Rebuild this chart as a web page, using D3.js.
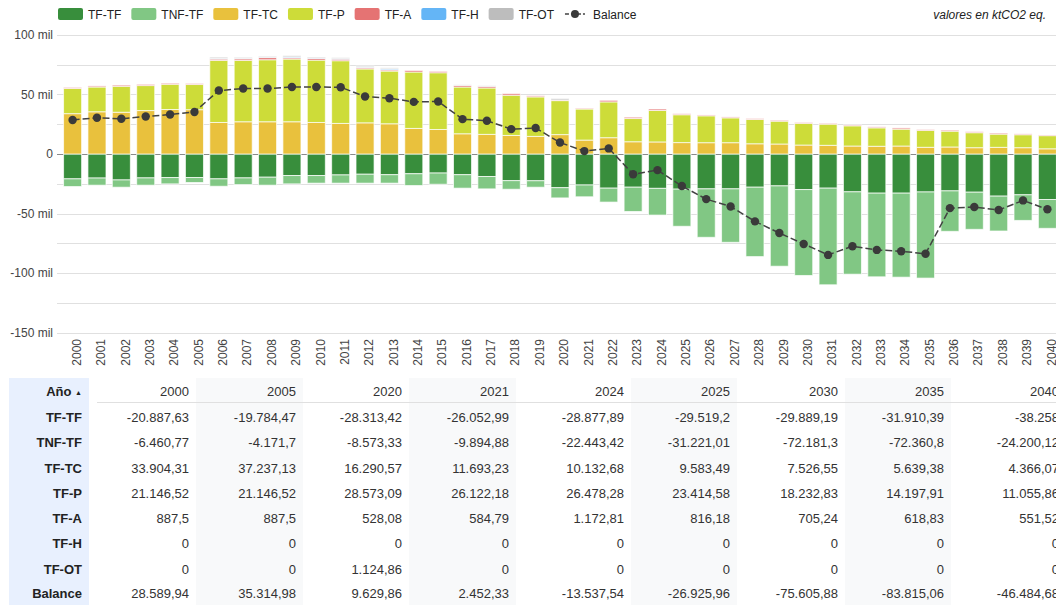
<html>
<head>
<script src="https://d3js.org/d3.v7.min.js"></script>
<style>
body { margin: 0; font-family: Arial, "Liberation Sans", sans-serif; background: #fff; }
svg { display: block; }
.tick-label { font-size: 12px; fill: #444; }
.legend-text { font-size: 12px; fill: #222; }
.cell { font-size: 13px; fill: #333; }
.head { font-size: 13px; fill: #222; font-weight: bold; }
</style>
</head>
<body>
<div id="chart"></div>
<script>
// years on the x axis
var years = d3.range(2000, 2041);

// series values, ktCO2 eq. (exact where the table gives them)
var tfTF = [-20887.63, -20200, -21800, -20100, -19800, -19784.47, -20900, -20100, -19500, -18100,
  -18100, -17600, -17000, -17400, -16600, -16000, -17400, -18900, -22400, -22500,
  -28313.42, -26052.99, -28700, -27900, -28877.89, -29519.2, -29300, -29300, -27900, -26800,
  -29889.19, -28700, -31800, -32900, -32900, -31910.39, -31000, -32100, -35400, -34300, -38258];
var tnfTF = [-6460.77, -6000, -6100, -6100, -5300, -4171.7, -6200, -5600, -6700, -7000,
  -6400, -6900, -7500, -7100, -9900, -9400, -11300, -10400, -7200, -5400,
  -8573.33, -9894.88, -11700, -20400, -22443.42, -31221.01, -40700, -44900, -58300, -67500,
  -72181.3, -81200, -69200, -70300, -70600, -72360.8, -34000, -31200, -29300, -21500, -24200.12];
var tfTC = [33904.31, 35500, 35100, 36500, 37400, 37237.13, 26500, 27100, 27100, 27100,
  26500, 25700, 26200, 25400, 21500, 20600, 17000, 16500, 15600, 14800,
  16290.57, 11693.23, 13700, 10300, 10132.68, 9583.49, 9500, 9500, 8600, 8400,
  7526.55, 7300, 6700, 6500, 6700, 5639.38, 5900, 5300, 5600, 5300, 4366.07];
var tfP = [21146.52, 20800, 21800, 21000, 21200, 21146.52, 52200, 51600, 52100, 52700,
  52400, 52700, 45300, 44300, 47400, 47700, 39300, 39000, 33800, 33200,
  28573.09, 26122.18, 30100, 19500, 26478.28, 23414.58, 22600, 20900, 20400, 19200,
  18232.83, 17800, 17000, 15500, 14200, 14197.91, 13300, 12600, 11100, 10900, 11055.86];
var tfA = [887.5, 900, 1000, 1000, 900, 887.5, 1100, 1300, 1800, 1100,
  1500, 1300, 1000, 1000, 1300, 1100, 1300, 1300, 1300, 900,
  528.08, 584.79, 1300, 1100, 1172.81, 816.18, 700, 750, 750, 800,
  705.24, 650, 700, 800, 1000, 618.83, 900, 800, 900, 700, 551.52];
var tfH = [0, 0, 0, 0, 0, 0, 500, 300, 300, 700,
  300, 400, 400, 900, 0, 0, 0, 0, 0, 0,
  0, 0, 0, 0, 0, 0, 0, 0, 0, 0,
  0, 0, 0, 0, 0, 0, 0, 0, 0, 0, 0];
var tfOT = [0, 0, 0, 0, 0, 0, 1000, 900, 800, 1000,
  800, 800, 900, 800, 0, 0, 500, 500, 0, 0,
  1124.86, 0, 0, 0, 0, 0, 0, 0, 0, 0,
  0, 0, 0, 0, 0, 0, 0, 0, 0, 0, 0];
var balance = [28589.94, 30400, 29600, 31500, 33200, 35314.98, 53300, 55000, 55000, 56300,
  56300, 56100, 48300, 46900, 43800, 44100, 29300, 27900, 20900, 21800,
  9629.86, 2452.33, 4700, -17000, -13537.54, -26925.96, -37900, -44100, -56600, -66400,
  -75605.88, -84800, -77500, -80600, -81700, -83815.06, -45500, -44600, -47100, -39000, -46484.68];

var seriesNames = ["TF-TF", "TNF-TF", "TF-TC", "TF-P", "TF-A", "TF-H", "TF-OT"];
var seriesColors = ["#388e3c", "#81c784", "#e9c13d", "#cddc39", "#e57373", "#64b5f6", "#bdbdbd"];
var yTicks = [100000, 75000, 50000, 25000, 0, -25000, -50000, -75000, -100000, -125000, -150000];
var yLabelTicks = [100000, 50000, 0, -50000, -100000, -150000];
var tableYears = [2000, 2005, 2020, 2021, 2024, 2025, 2030, 2035, 2040];

var W = 1056, H = 605;
var allSeries = [tfTF, tnfTF, tfTC, tfP, tfA, tfH, tfOT];

var rows = years.map(function(y, i) {
  var r = {year: y};
  seriesNames.forEach(function(k, j) { r[k] = allSeries[j][i]; });
  return r;
});

var x = d3.scaleBand().domain(years).range([57, 1063]).paddingInner(0.26).paddingOuter(0.27);
var y = d3.scaleLinear().domain([-150000, 100000]).range([332.5, 35]);
var color = d3.scaleOrdinal().domain(seriesNames).range(seriesColors);

var svg = d3.select("#chart").append("svg").attr("width", W).attr("height", H);

/* grid */
svg.append("g").selectAll("line").data(yTicks).enter().append("line")
  .attr("x1", 57).attr("x2", W)
  .attr("y1", function(d) { return Math.round(y(d)) + 0.5; })
  .attr("y2", function(d) { return Math.round(y(d)) + 0.5; })
  .attr("stroke", function(d) { return d === 0 ? "#8a8a8a" : "#e0e0e0"; })
  .attr("stroke-width", 1);

svg.append("g").selectAll("text").data(yLabelTicks).enter().append("text")
  .attr("class", "tick-label")
  .attr("x", 53).attr("y", function(d) { return y(d); })
  .attr("dy", "0.35em").attr("text-anchor", "end")
  .text(function(d) { return d === 0 ? "0" : (d / 1000) + " mil"; });

/* stacked bars */
var stack = d3.stack().keys(seriesNames).offset(d3.stackOffsetDiverging);
var layers = stack(rows);

svg.append("g").selectAll("g").data(layers).enter().append("g")
  .attr("fill", function(d) { return color(d.key); })
  .selectAll("rect").data(function(d) { return d; }).enter().append("rect")
  .attr("x", function(d) { return x(d.data.year); })
  .attr("width", x.bandwidth())
  .attr("y", function(d) { return y(Math.max(d[0], d[1])); })
  .attr("height", function(d) { return Math.abs(y(d[0]) - y(d[1])); })
  .attr("stroke", "#fff").attr("stroke-opacity", 0.7).attr("stroke-width", 1);

/* balance line */
var line = d3.line()
  .x(function(d, i) { return x(years[i]) + x.bandwidth() / 2; })
  .y(function(d) { return y(d); });

svg.append("path").datum(balance)
  .attr("d", line).attr("fill", "none")
  .attr("stroke", "#424242").attr("stroke-width", 1.5)
  .attr("stroke-dasharray", "7,3");

svg.append("g").selectAll("circle").data(balance).enter().append("circle")
  .attr("cx", function(d, i) { return x(years[i]) + x.bandwidth() / 2; })
  .attr("cy", function(d) { return y(d); })
  .attr("r", 4.2).attr("fill", "#3a3a3a");

/* x labels */
svg.append("g").selectAll("text").data(years).enter().append("text")
  .attr("class", "tick-label")
  .attr("transform", function(d) { return "translate(" + (x(d) + x.bandwidth() / 2 + 4) + ",339) rotate(-90)"; })
  .attr("text-anchor", "end").attr("dy", "0.35em")
  .text(function(d) { return d; });

/* legend */
var legend = svg.append("g");
var lx = 58;
seriesNames.forEach(function(k) {
  legend.append("rect").attr("x", lx).attr("y", 8).attr("width", 25).attr("height", 12)
    .attr("rx", 2).attr("fill", color(k));
  var t = legend.append("text").attr("class", "legend-text")
    .attr("x", lx + 30).attr("y", 18.5).text(k);
  lx += 30 + t.node().getComputedTextLength() + 10;
});
legend.append("line").attr("x1", lx + 1).attr("x2", lx + 21).attr("y1", 14).attr("y2", 14)
  .attr("stroke", "#424242").attr("stroke-width", 1.5).attr("stroke-dasharray", "4,2");
legend.append("circle").attr("cx", lx + 11).attr("cy", 14).attr("r", 4).attr("fill", "#3a3a3a");
legend.append("text").attr("class", "legend-text").attr("x", lx + 29).attr("y", 18.5).text("Balance");

svg.append("text").attr("x", 1046).attr("y", 19)
  .attr("text-anchor", "end").attr("font-style", "italic")
  .attr("font-size", 12).attr("fill", "#222")
  .text("valores en ktCO2 eq.");

/* table */
var fmt = d3.formatLocale({decimal: ",", thousands: ".", grouping: [3], currency: ["", ""], minus: "-"}).format(",.2~f");
var colRight = [82, 189, 296, 402, 509, 624, 730, 838, 944, 1059];
var rowY = [391, 417, 442, 468, 493, 518, 543, 569, 593];
var tableTop = 378;
var rowLabels = seriesNames.concat(["Balance"]);
var rowData = allSeries.concat([balance]);

var table = svg.append("g");
table.append("rect").attr("x", 9).attr("y", tableTop).attr("width", 80).attr("height", H - tableTop)
  .attr("fill", "#e8f0fe");
tableYears.forEach(function(yr, c) {
  if (c % 2 === 1) {
    table.append("rect").attr("x", colRight[c] + 7).attr("y", tableTop)
      .attr("width", colRight[c + 1] - colRight[c]).attr("height", H - tableTop)
      .attr("fill", "#f8f9fa");
  }
});
table.append("line").attr("x1", 97).attr("x2", W).attr("y1", 402.5).attr("y2", 402.5)
  .attr("stroke", "#e0e0e0");

var hd = table.append("text").attr("class", "head").attr("x", colRight[0]).attr("y", rowY[0])
  .attr("dy", "0.35em").attr("text-anchor", "end");
hd.append("tspan").text("Año ");
hd.append("tspan").attr("font-size", 7).attr("dy", "-1").text("\u25B2");

tableYears.forEach(function(yr, c) {
  table.append("text").attr("class", "cell").attr("x", colRight[c + 1]).attr("y", rowY[0])
    .attr("dy", "0.35em").attr("text-anchor", "end").text(yr);
});

rowLabels.forEach(function(lbl, r) {
  table.append("text").attr("class", "head").attr("x", colRight[0]).attr("y", rowY[r + 1])
    .attr("dy", "0.35em").attr("text-anchor", "end").text(lbl);
  tableYears.forEach(function(yr, c) {
    var v = rowData[r][years.indexOf(yr)];
    table.append("text").attr("class", "cell").attr("x", colRight[c + 1]).attr("y", rowY[r + 1])
      .attr("dy", "0.35em").attr("text-anchor", "end").text(fmt(v));
  });
});
</script>
</body>
</html>
